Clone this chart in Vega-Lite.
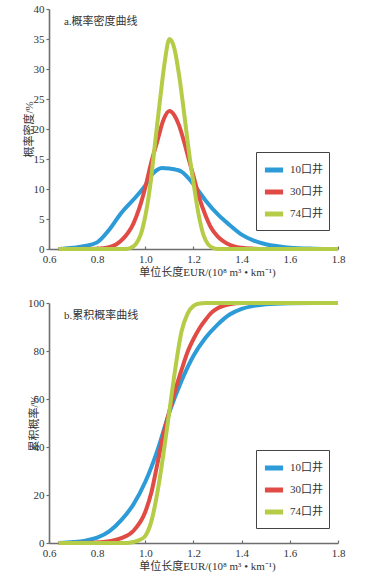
{
  "$schema": "https://vega.github.io/schema/vega-lite/v6.json",
  "background": "white",
  "padding": {"left": 23, "top": 3, "right": 5, "bottom": 5},
  "config": {
    "font": "Liberation Serif, Noto Sans CJK SC",
    "view": {"stroke": null},
    "concat": {"spacing": 18},
    "axis": {
      "grid": false,
      "domainColor": "#6e6e6e",
      "domainWidth": 1.6,
      "tickColor": "#6e6e6e",
      "tickWidth": 1.2,
      "labelFont": "Liberation Serif",
      "labelFontSize": 11,
      "labelColor": "#333333",
      "labelOverlap": false,
      "labelFlush": false,
      "titleFont": "Liberation Serif, Noto Sans CJK SC",
      "titleFontSize": 11,
      "titleFontWeight": "normal",
      "titleColor": "#333333"
    },
    "axisX": {"tickSize": -3, "labelPadding": 7, "titlePadding": 2},
    "axisY": {"tickSize": 3, "labelPadding": 2},
    "legend": {
      "orient": "none",
      "legendX": 207,
      "strokeColor": "#444444",
      "padding": 6,
      "symbolType": "stroke",
      "symbolSize": 330,
      "symbolStrokeWidth": 5,
      "labelFont": "Liberation Serif, Noto Sans CJK SC",
      "labelFontSize": 11,
      "labelColor": "#333333",
      "labelOffset": 4,
      "rowPadding": -3,
      "title": null
    }
  },
  "datasets": {
    "dens": [
      {"x": 0.64, "y": 0, "s": "10口井"}, {"x": 0.70, "y": 0.2, "s": "10口井"}, {"x": 0.75, "y": 0.5, "s": "10口井"}, {"x": 0.80, "y": 1.1, "s": "10口井"}, {"x": 0.85, "y": 3.2, "s": "10口井"}, {"x": 0.90, "y": 6.0, "s": "10口井"}, {"x": 0.95, "y": 8.2, "s": "10口井"}, {"x": 1.00, "y": 10.6, "s": "10口井"}, {"x": 1.03, "y": 12.5, "s": "10口井"}, {"x": 1.05, "y": 13.2, "s": "10口井"}, {"x": 1.07, "y": 13.5, "s": "10口井"}, {"x": 1.10, "y": 13.4, "s": "10口井"}, {"x": 1.13, "y": 13.2, "s": "10口井"}, {"x": 1.15, "y": 12.9, "s": "10口井"}, {"x": 1.17, "y": 12.2, "s": "10口井"}, {"x": 1.20, "y": 10.8, "s": "10口井"}, {"x": 1.25, "y": 8.1, "s": "10口井"}, {"x": 1.30, "y": 5.8, "s": "10口井"}, {"x": 1.35, "y": 4.0, "s": "10口井"}, {"x": 1.40, "y": 2.4, "s": "10口井"}, {"x": 1.45, "y": 1.4, "s": "10口井"}, {"x": 1.50, "y": 0.8, "s": "10口井"}, {"x": 1.55, "y": 0.45, "s": "10口井"}, {"x": 1.60, "y": 0.2, "s": "10口井"}, {"x": 1.70, "y": 0.05, "s": "10口井"}, {"x": 1.80, "y": 0, "s": "10口井"},
      {"x": 0.64, "y": 0, "s": "30口井"}, {"x": 0.80, "y": 0.05, "s": "30口井"}, {"x": 0.85, "y": 0.3, "s": "30口井"}, {"x": 0.88, "y": 0.8, "s": "30口井"}, {"x": 0.90, "y": 1.4, "s": "30口井"}, {"x": 0.93, "y": 2.8, "s": "30口井"}, {"x": 0.95, "y": 4.2, "s": "30口井"}, {"x": 0.975, "y": 6.8, "s": "30口井"}, {"x": 1.00, "y": 10.3, "s": "30口井"}, {"x": 1.025, "y": 14.5, "s": "30口井"}, {"x": 1.05, "y": 18.0, "s": "30口井"}, {"x": 1.075, "y": 21.5, "s": "30口井"}, {"x": 1.10, "y": 23.0, "s": "30口井"}, {"x": 1.12, "y": 22.3, "s": "30口井"}, {"x": 1.14, "y": 20.6, "s": "30口井"}, {"x": 1.16, "y": 18.0, "s": "30口井"}, {"x": 1.18, "y": 15.0, "s": "30口井"}, {"x": 1.20, "y": 12.1, "s": "30口井"}, {"x": 1.225, "y": 8.4, "s": "30口井"}, {"x": 1.25, "y": 5.6, "s": "30口井"}, {"x": 1.275, "y": 3.4, "s": "30口井"}, {"x": 1.30, "y": 2.1, "s": "30口井"}, {"x": 1.35, "y": 0.7, "s": "30口井"}, {"x": 1.40, "y": 0.2, "s": "30口井"}, {"x": 1.45, "y": 0.05, "s": "30口井"}, {"x": 1.50, "y": 0, "s": "30口井"}, {"x": 1.80, "y": 0, "s": "30口井"},
      {"x": 0.64, "y": 0, "s": "74口井"}, {"x": 0.92, "y": 0, "s": "74口井"}, {"x": 0.94, "y": 0.2, "s": "74口井"}, {"x": 0.96, "y": 0.8, "s": "74口井"}, {"x": 0.98, "y": 2.3, "s": "74口井"}, {"x": 1.00, "y": 5.5, "s": "74口井"}, {"x": 1.02, "y": 10.5, "s": "74口井"}, {"x": 1.04, "y": 17.5, "s": "74口井"}, {"x": 1.06, "y": 24.5, "s": "74口井"}, {"x": 1.08, "y": 31.0, "s": "74口井"}, {"x": 1.10, "y": 35.0, "s": "74口井"}, {"x": 1.12, "y": 33.5, "s": "74口井"}, {"x": 1.14, "y": 29.0, "s": "74口井"}, {"x": 1.16, "y": 23.0, "s": "74口井"}, {"x": 1.18, "y": 16.5, "s": "74口井"}, {"x": 1.20, "y": 11.0, "s": "74口井"}, {"x": 1.22, "y": 6.0, "s": "74口井"}, {"x": 1.24, "y": 2.5, "s": "74口井"}, {"x": 1.26, "y": 0.8, "s": "74口井"}, {"x": 1.28, "y": 0.2, "s": "74口井"}, {"x": 1.30, "y": 0, "s": "74口井"}, {"x": 1.80, "y": 0, "s": "74口井"}
    ],
    "cdf": [
      {"x": 0.64, "y": 0, "s": "10口井"}, {"x": 0.70, "y": 0.4, "s": "10口井"}, {"x": 0.75, "y": 1.0, "s": "10口井"}, {"x": 0.80, "y": 2.2, "s": "10口井"}, {"x": 0.85, "y": 4.8, "s": "10口井"}, {"x": 0.90, "y": 9.5, "s": "10口井"}, {"x": 0.95, "y": 16.0, "s": "10口井"}, {"x": 1.00, "y": 25.5, "s": "10口井"}, {"x": 1.05, "y": 38.5, "s": "10口井"}, {"x": 1.10, "y": 54.5, "s": "10口井"}, {"x": 1.15, "y": 67.5, "s": "10口井"}, {"x": 1.20, "y": 78.0, "s": "10口井"}, {"x": 1.25, "y": 85.5, "s": "10口井"}, {"x": 1.30, "y": 91.0, "s": "10口井"}, {"x": 1.35, "y": 95.2, "s": "10口井"}, {"x": 1.40, "y": 97.6, "s": "10口井"}, {"x": 1.45, "y": 98.8, "s": "10口井"}, {"x": 1.50, "y": 99.5, "s": "10口井"}, {"x": 1.60, "y": 99.9, "s": "10口井"}, {"x": 1.70, "y": 100, "s": "10口井"}, {"x": 1.80, "y": 100, "s": "10口井"},
      {"x": 0.64, "y": 0, "s": "30口井"}, {"x": 0.80, "y": 0.2, "s": "30口井"}, {"x": 0.85, "y": 0.7, "s": "30口井"}, {"x": 0.90, "y": 2.0, "s": "30口井"}, {"x": 0.95, "y": 5.0, "s": "30口井"}, {"x": 1.00, "y": 13.0, "s": "30口井"}, {"x": 1.025, "y": 21.0, "s": "30口井"}, {"x": 1.05, "y": 33.0, "s": "30口井"}, {"x": 1.075, "y": 45.0, "s": "30口井"}, {"x": 1.10, "y": 55.0, "s": "30口井"}, {"x": 1.125, "y": 64.0, "s": "30口井"}, {"x": 1.15, "y": 72.0, "s": "30口井"}, {"x": 1.175, "y": 79.5, "s": "30口井"}, {"x": 1.20, "y": 85.0, "s": "30口井"}, {"x": 1.225, "y": 89.5, "s": "30口井"}, {"x": 1.25, "y": 93.0, "s": "30口井"}, {"x": 1.275, "y": 96.0, "s": "30口井"}, {"x": 1.30, "y": 97.8, "s": "30口井"}, {"x": 1.35, "y": 99.5, "s": "30口井"}, {"x": 1.40, "y": 100, "s": "30口井"}, {"x": 1.80, "y": 100, "s": "30口井"},
      {"x": 0.64, "y": 0, "s": "74口井"}, {"x": 0.92, "y": 0, "s": "74口井"}, {"x": 0.95, "y": 0.4, "s": "74口井"}, {"x": 0.975, "y": 1.2, "s": "74口井"}, {"x": 1.00, "y": 3.0, "s": "74口井"}, {"x": 1.025, "y": 9.0, "s": "74口井"}, {"x": 1.05, "y": 21.0, "s": "74口井"}, {"x": 1.075, "y": 37.0, "s": "74口井"}, {"x": 1.10, "y": 55.0, "s": "74口井"}, {"x": 1.125, "y": 73.0, "s": "74口井"}, {"x": 1.15, "y": 88.0, "s": "74口井"}, {"x": 1.175, "y": 95.5, "s": "74口井"}, {"x": 1.20, "y": 98.8, "s": "74口井"}, {"x": 1.225, "y": 99.8, "s": "74口井"}, {"x": 1.25, "y": 100, "s": "74口井"}, {"x": 1.80, "y": 100, "s": "74口井"}
    ]
  },
  "resolve": {"scale": {"color": "independent"}},
  "vconcat": [
    {
      "width": 289,
      "height": 240,
      "layer": [
        {
          "data": {"name": "dens"},
          "mark": {"type": "line", "strokeWidth": 4, "interpolate": "monotone"},
          "encoding": {
            "x": {"field": "x", "type": "quantitative", "scale": {"domain": [0.6, 1.8], "nice": false},
              "axis": {"values": [0.6, 0.8, 1.0, 1.2, 1.4, 1.6, 1.8], "tickCount": 10, "format": ".1f", "labelOverlap": false, "labelFlush": false, "title": "单位长度EUR/(10⁸ m³ • km⁻¹)", "titleX": 158}},
            "y": {"field": "y", "type": "quantitative", "scale": {"domain": [0, 40], "nice": false},
              "axis": {"values": [0, 5, 10, 15, 20, 25, 30, 35, 40], "tickCount": 12, "labelOverlap": false, "labelFlush": false, "title": "概率密度/%", "titleX": -20, "titleBaseline": "middle"}},
            "color": {"field": "s", "type": "nominal", "scale": {"domain": ["10口井", "30口井", "74口井"], "range": ["#2C9BD7", "#E04B46", "#B4CC46"]},
              "legend": {"legendY": 143}}
          }
        },
        {
          "data": {"values": [{"label": "a.概率密度曲线"}]},
          "mark": {"type": "text", "align": "left", "baseline": "middle", "fontSize": 11, "color": "#333333", "font": "Liberation Serif, Noto Sans CJK SC"},
          "encoding": {
            "text": {"field": "label"},
            "x": {"datum": 0.662, "type": "quantitative"},
            "y": {"datum": 37.9, "type": "quantitative"}
          }
        }
      ]
    },
    {
      "width": 289,
      "height": 240,
      "layer": [
        {
          "data": {"name": "cdf"},
          "mark": {"type": "line", "strokeWidth": 4, "interpolate": "monotone"},
          "encoding": {
            "x": {"field": "x", "type": "quantitative", "scale": {"domain": [0.6, 1.8], "nice": false},
              "axis": {"values": [0.6, 0.8, 1.0, 1.2, 1.4, 1.6, 1.8], "tickCount": 10, "format": ".1f", "labelOverlap": false, "labelFlush": false, "title": "单位长度EUR/(10⁸ m³ • km⁻¹)", "titleX": 158}},
            "y": {"field": "y", "type": "quantitative", "scale": {"domain": [0, 100], "nice": false},
              "axis": {"values": [0, 20, 40, 60, 80, 100], "tickCount": 8, "labelOverlap": false, "labelFlush": false, "title": "累积概率/%", "titleX": -15, "titleBaseline": "middle"}},
            "color": {"field": "s", "type": "nominal", "scale": {"domain": ["10口井", "30口井", "74口井"], "range": ["#2C9BD7", "#E04B46", "#B4CC46"]},
              "legend": {"legendY": 147}}
          }
        },
        {
          "data": {"values": [{"label": "b.累积概率曲线"}]},
          "mark": {"type": "text", "align": "left", "baseline": "middle", "fontSize": 11, "color": "#333333", "font": "Liberation Serif, Noto Sans CJK SC"},
          "encoding": {
            "text": {"field": "label"},
            "x": {"datum": 0.662, "type": "quantitative"},
            "y": {"datum": 94.7, "type": "quantitative"}
          }
        }
      ]
    }
  ]
}
